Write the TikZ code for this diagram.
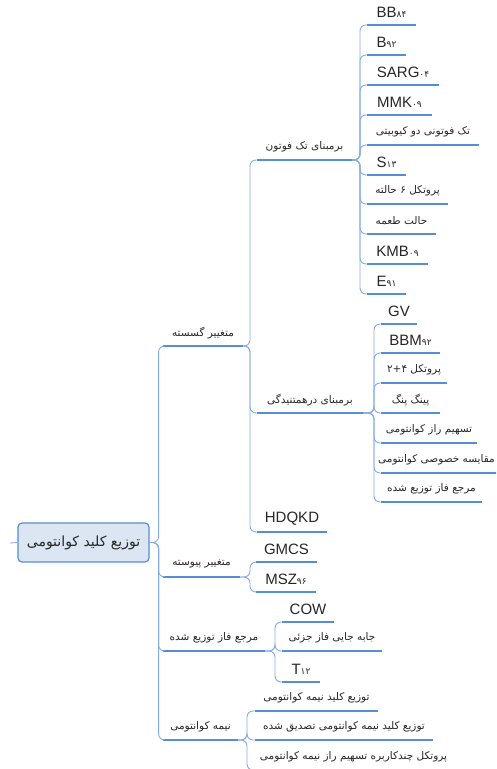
\documentclass[tikz,border=0pt]{standalone}
\usepackage{fontspec}
\setmainfont{Liberation Sans}
\newfontfamily\fa[Script=Arabic]{DejaVu Sans}
\TeXXeTstate=1
\definecolor{ucol}{HTML}{558ED5}
\definecolor{lcol}{HTML}{85ACE6}
\definecolor{rootfill}{HTML}{DCE6F3}
\definecolor{txt}{HTML}{262626}
\newcommand\fat[1]{{\fa\fontsize{10.5}{12}\selectfont\beginR #1\endR}}
\newcommand\lat[2]{{\fontsize{15}{16}\selectfont #1}{\fa\fontsize{9}{10}\selectfont #2}}
\newcommand\topic[5]{%
  \coordinate (#1-s) at (#2,#4);
  \coordinate (#1-e) at (#3,#4);
  \node[lbl] (#1) at ({(#2+#3)/2},{#4-13}) {#5};
  \draw[uline] (#1-s) -- (#1-e);}
\newcommand\conn[3]{\draw[link] (#1-e) -- ++(#3,0) |- (#2-s);}
\tikzset{
  lbl/.style={inner sep=0pt, text=txt, font=\fontsize{15}{16}\selectfont},
  uline/.style={draw=ucol, line width=1.6pt},
  link/.style={draw=lcol, line width=0.9pt, rounded corners=6pt},
  rootbox/.style={draw=ucol, fill=rootfill, line width=1.2pt, rounded corners=4pt,
    minimum width=131pt, minimum height=39pt, inner sep=0pt, text=txt}
}
\begin{document}
\begin{tikzpicture}[x=1pt,y=-1pt]
\useasboundingbox (0,0) rectangle (496,769);
\clip (0,0) rectangle (496,769);
% root
\node[rootbox] (root) at (83.5,542.5) {\fa\fontsize{14}{16}\selectfont\beginR توزیع کلید کوانتومی\endR};
\coordinate (stub) at (10,543);
\draw[link] (stub) -- (root.west);
\coordinate (root-e) at (root.east);
% level 1
\topic{g1}{163}{243}{346}{\fat{متغییر گسسته}}
\topic{g2}{163}{240}{577}{\fat{متغییر پیوسته}}
\topic{g3}{163}{265}{651}{\fat{مرجع فاز توزیع شده}}
\topic{g4}{163}{238}{740}{\fat{نیمه کوانتومی}}
\conn{root}{g1}{9}\conn{root}{g2}{9}\conn{root}{g3}{9}\conn{root}{g4}{9}
% level 2 under g1
\topic{a1}{257}{352}{160}{\fat{برمبنای تک فوتون}}
\topic{a2}{257}{363}{413}{\fat{برمبنای درهمتنیدگی}}
\topic{a3}{257}{327}{532}{\lat{HDQKD}{}}
\conn{g1}{a1}{7}\conn{g1}{a2}{7}\conn{g1}{a3}{7}
% under a1
\topic{b1}{367}{416}{25}{\lat{BB}{۸۴}}
\topic{b2}{367}{406}{55}{\lat{B}{۹۲}}
\topic{b3}{367}{439}{85}{\lat{SARG}{۰۴}}
\topic{b4}{367}{432}{115}{\lat{MMK}{۰۹}}
\topic{b5}{367}{479}{145}{\fat{تک فوتونی دو کیوبیتی}}
\topic{b6}{367}{406}{175}{\lat{S}{۱۳}}
\topic{b7}{367}{448}{204}{\fat{پروتکل ۶ حالته}}
\topic{b8}{367}{436}{234}{\fat{حالت طعمه}}
\topic{b9}{367}{428}{264}{\lat{KMB}{۰۹}}
\topic{b10}{367}{406}{294}{\lat{E}{۹۱}}
\foreach \c in {b1,b2,b3,b4,b5,b6,b7,b8,b9,b10}{\conn{a1}{\c}{8}}
% under a2
\topic{c1}{381}{417}{324}{\lat{GV}{}}
\topic{c2}{381}{440}{353}{\lat{BBM}{۹۲}}
\topic{c3}{381}{447}{383}{\fat{پروتکل \beginL ۲+۴\endL}}
\topic{c4}{381}{440}{413}{\fat{پینگ پنگ}}
\topic{c5}{381}{477}{443}{\fat{تسهیم راز کوانتومی}}
\coordinate (c6-s) at (381,473);
\coordinate (c6-e) at (510,473);
\node[lbl, anchor=east] (c6) at (495,460) {\fat{مقایسه خصوصی کوانتومی}};
\draw[uline] (c6-s) -- (c6-e);
\topic{c7}{381}{482}{502}{\fat{مرجع فاز توزیع شده}}
\foreach \c in {c1,c2,c3,c4,c5,c6,c7}{\conn{a2}{\c}{11}}
% under g2
\topic{d1}{256}{317}{562}{\lat{GMCS}{}}
\topic{d2}{256}{316}{592}{\lat{MSZ}{۹۶}}
\conn{g2}{d1}{10}\conn{g2}{d2}{10}
% under g3
\topic{e1}{282}{334}{622}{\lat{COW}{}}
\topic{e2}{282}{382}{651}{\fat{جابه جایی فاز جزئی}}
\topic{e3}{282}{320}{682}{\lat{T}{۱۲}}
\conn{g3}{e1}{10}\conn{g3}{e2}{10}\conn{g3}{e3}{10}
% under g4
\topic{f1}{255}{378}{711}{\fat{توزیع کلید نیمه کوانتومی}}
\topic{f2}{255}{433}{740}{\fat{توزیع کلید نیمه کوانتومی تصدیق شده}}
\topic{f3}{255}{452}{770}{\fat{پروتکل چندکاربره تسهیم راز نیمه کوانتومی}}
\conn{g4}{f1}{9}\conn{g4}{f2}{9}\conn{g4}{f3}{9}
\end{tikzpicture}
\end{document}
